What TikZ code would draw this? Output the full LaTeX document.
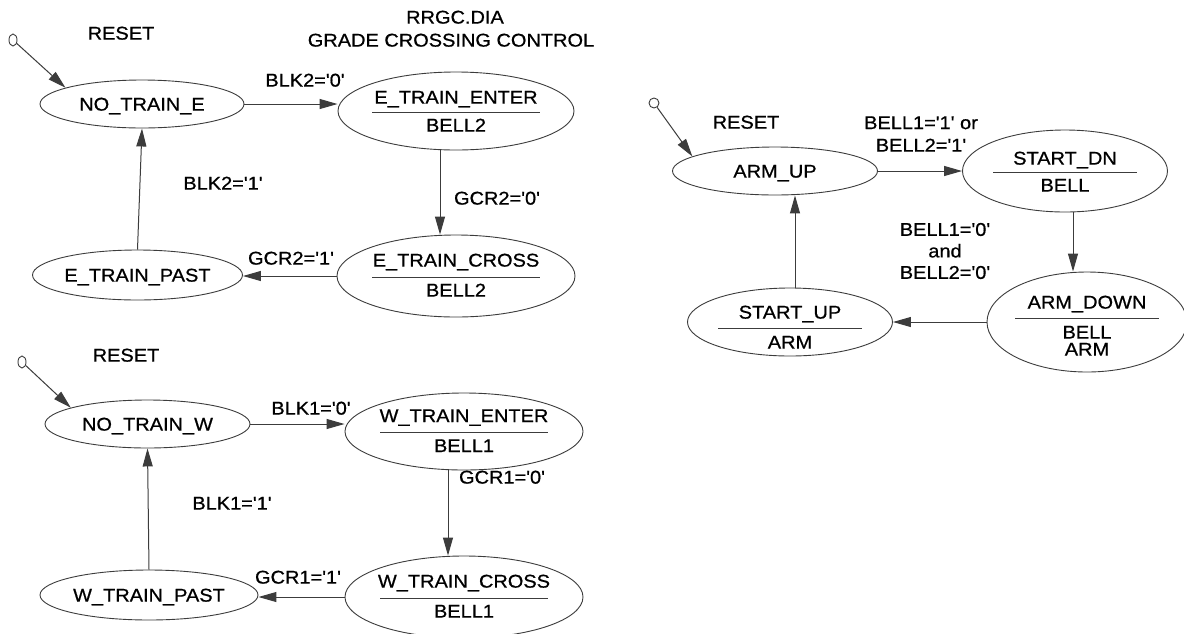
\documentclass[tikz,border=0pt]{standalone}
\usepackage{fontspec}
\setmainfont{Liberation Sans}[Ligatures=TeXOff, FakeStretch=1.08, FakeBold=0.7]
\usetikzlibrary{arrows.meta,shapes.geometric,calc}
\definecolor{ln}{HTML}{3C3C3C}
\definecolor{tx}{HTML}{000000}
\begin{document}
\begin{tikzpicture}[x=1pt,y=-1pt,
  every node/.style={font=\fontsize{18.5}{21.5}\selectfont, text=tx},
  st/.style={draw=ln, line width=0.9pt, ellipse, inner sep=0pt},
  lbl/.style={inner sep=0pt, text height=13.2pt, text depth=0pt},
  mlbl/.style={inner sep=0pt, align=center},
  arr/.style={draw=ln, line width=1pt, -{Triangle[length=18pt,width=10pt]}},
  sep/.style={draw=ln, line width=1pt},
  rst/.style={draw=ln, line width=0.9pt, ellipse, inner sep=0pt}]
\useasboundingbox (0,0) rectangle (1184,633);
\fill[white] (0,0) rectangle (1184,633);

% ---------- title ----------
\node[lbl] (title1) at (455,17) {RRGC.DIA};
\node[lbl] (title2) at (451,40) {GRADE CROSSING CONTROL};

% ---------- east block ----------
\node[rst, minimum width=8pt, minimum height=12pt] (r1) at (13,40) {};
\node[lbl] (reset1) at (121,33) {RESET};
\node[st, minimum width=204pt, minimum height=48pt] (ne) at (142,104) {};
\node[lbl] (ne-t) at (ne) {NO\_TRAIN\_E};

\node[st, minimum width=236pt, minimum height=78pt] (ett) at (456,111) {};
\node[lbl] (ett-a) at ($(ett)+(0,-14)$) {E\_TRAIN\_ENTER};
\draw[sep] ($(ett)+(-84,1)$) -- ($(ett)+(84,1)$);
\node[lbl] (ett-b) at ($(ett)+(0,14)$) {BELL2};

\node[st, minimum width=238pt, minimum height=82pt] (etc) at (456,276) {};
\node[lbl] (etc-a) at ($(etc)+(0,-16)$) {E\_TRAIN\_CROSS};
\draw[sep] ($(etc)+(-84,1)$) -- ($(etc)+(84,1)$);
\node[lbl] (etc-b) at ($(etc)+(0,14)$) {BELL2};

\node[st, minimum width=210pt, minimum height=50pt] (etp) at (137.5,275) {};
\node[lbl] (etp-t) at (etp) {E\_TRAIN\_PAST};

\draw[arr] (r1) -- (ne.168);
\draw[arr] (ne.east) -- (ne.east -| ett.west);
\draw[arr] ([xshift=-16pt]ett.south) -- ([xshift=-16pt]etc.north);
\draw[arr] (etc.west) -- (etc.west -| etp.east);
\draw[arr] (etp.north) -- (ne.south);

\node[lbl] (l-blk2a) at (305,80) {BLK2='0'};
\node[lbl] (l-gcr2a) at (497,198) {GCR2='0'};
\node[lbl] (l-gcr2b) at (291,258) {GCR2='1'};
\node[lbl] (l-blk2b) at (223,183) {BLK2='1'};

% ---------- west block ----------
\node[rst, minimum width=8pt, minimum height=12pt] (r2) at (22,362) {};
\node[lbl] (reset2) at (126,355) {RESET};
\node[st, minimum width=205pt, minimum height=48pt] (nw) at (147.5,424) {};
\node[lbl] (nw-t) at (nw) {NO\_TRAIN\_W};

\node[st, minimum width=238pt, minimum height=77pt] (wte) at (464,431.5) {};
\node[lbl] (wte-a) at ($(wte)+(0,-16)$) {W\_TRAIN\_ENTER};
\draw[sep] ($(wte)+(-84,1)$) -- ($(wte)+(84,1)$);
\node[lbl] (wte-b) at ($(wte)+(0,14)$) {BELL1};

\node[st, minimum width=238pt, minimum height=82pt] (wtc) at (464,597) {};
\node[lbl] (wtc-a) at ($(wtc)+(0,-16)$) {W\_TRAIN\_CROSS};
\draw[sep] ($(wtc)+(-84,1)$) -- ($(wtc)+(84,1)$);
\node[lbl] (wtc-b) at ($(wtc)+(0,14)$) {BELL1};

\node[st, minimum width=218pt, minimum height=50pt] (wtp) at (149,595) {};
\node[lbl] (wtp-t) at (wtp) {W\_TRAIN\_PAST};

\draw[arr] (r2) -- (nw.168);
\draw[arr] (nw.east) -- (nw.east -| wte.west);
\draw[arr] ([xshift=-16pt]wte.south) -- ([xshift=-16pt]wtc.north);
\draw[arr] (wtc.west) -- (wtc.west -| wtp.east);
\draw[arr] (wtp.north) -- (nw.south);

\node[lbl] (l-blk1a) at (311,408) {BLK1='0'};
\node[lbl] (l-gcr1a) at (502,477) {GCR1='0'};
\node[lbl] (l-gcr1b) at (298,577) {GCR1='1'};
\node[lbl] (l-blk1b) at (232,503) {BLK1='1'};

% ---------- arm block ----------
\node[rst, minimum size=10pt] (r3) at (654,103) {};
\node[lbl] (reset3) at (746,122) {RESET};
\node[st, minimum width=205pt, minimum height=48pt] (au) at (775,171) {};
\node[lbl] (au-t) at (au) {ARM\_UP};

\node[st, minimum width=205pt, minimum height=82pt] (sd) at (1065,171) {};
\node[lbl] (sd-a) at ($(sd)+(0,-13)$) {START\_DN};
\draw[sep] ($(sd)+(-72,1)$) -- ($(sd)+(72,1)$);
\node[lbl] (sd-b) at ($(sd)+(0,14)$) {BELL};

\node[st, minimum width=200pt, minimum height=100pt] (ad) at (1087,322) {};
\node[lbl] (ad-a) at ($(ad)+(0,-20)$) {ARM\_DOWN};
\draw[sep] ($(ad)+(-72,-4)$) -- ($(ad)+(72,-4)$);
\node[lbl] (ad-b) at ($(ad)+(0,10)$) {BELL};
\node[lbl] (ad-c) at ($(ad)+(0,27)$) {ARM};

\node[st, minimum width=205pt, minimum height=68pt] (su) at (790,322) {};
\node[lbl] (su-a) at ($(su)+(0,-10)$) {START\_UP};
\draw[sep] ($(su)+(-72,6)$) -- ($(su)+(72,6)$);
\node[lbl] (su-b) at ($(su)+(0,20)$) {ARM};

\draw[arr] (r3) -- (au.170);
\draw[arr] (au.east) -- (sd.west);
\draw[arr] ([xshift=8pt]sd.south) -- ([xshift=-14pt]ad.north);
\draw[arr] (ad.west) -- (ad.west -| su.east);
\draw[arr] ([xshift=5pt]su.north) -- ([xshift=20pt]au.south);

\node[mlbl] (l-bell1) at (921,134) {BELL1='1' or\\[1pt]BELL2='1'};
\node[mlbl] (l-bell0) at (945,251) {BELL1='0'\\and\\BELL2='0'};
\end{tikzpicture}
\end{document}
